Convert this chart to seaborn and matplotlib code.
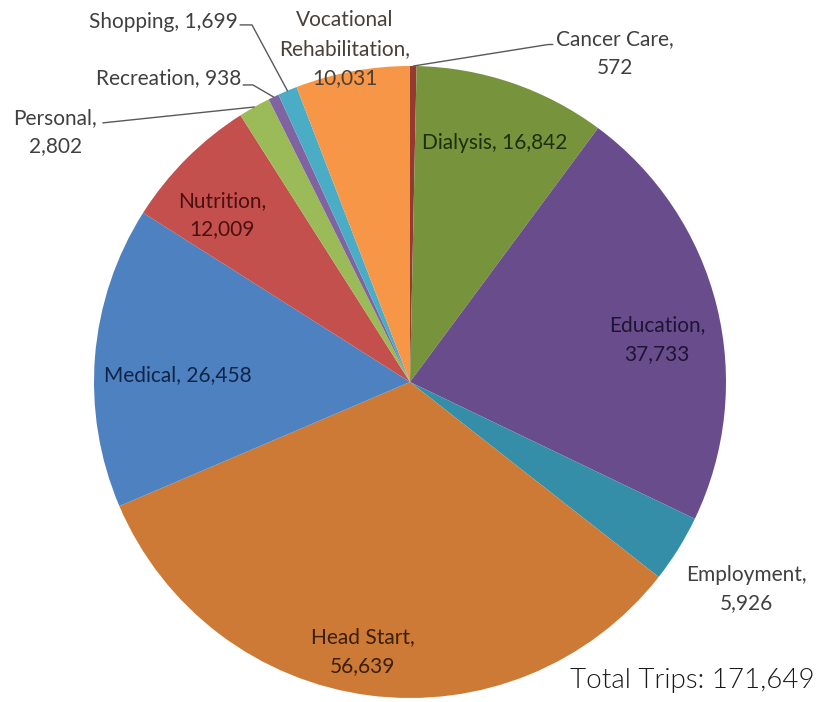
import numpy as np
import matplotlib
matplotlib.use("Agg")
import matplotlib.pyplot as plt
import seaborn as sns

# Trip purposes, clockwise from 12 o'clock
categories = [
    "Cancer Care", "Dialysis", "Education", "Employment", "Head Start",
    "Medical", "Nutrition", "Personal", "Recreation", "Shopping",
    "Vocational\nRehabilitation",
]
trips = [572, 16842, 37733, 5926, 56639, 26458, 12009, 2802, 938, 1699, 10031]
total_label = "Total Trips: 171,649"

slice_colors = [
    "#953A2E", "#77933C", "#694C8C", "#358EA8", "#CD7A36",
    "#4E81C0", "#C4504D", "#9BBB59", "#8064A2", "#4BACC6", "#F79646",
]
text_colors = [
    "#404040", "#1E2E0A", "#1E1530", "#404040", "#3A1E08",
    "#0F2548", "#4A0F0E", "#404040", "#404040", "#404040", "#4A4038",
]

sns.set_theme(style="white")
plt.rcParams["font.family"] = ["Lato", "DejaVu Sans"]

fig = plt.figure(figsize=(8.19, 7.02), dpi=100)
fig.patch.set_facecolor("white")
ax = fig.add_axes([94 / 819, 4 / 702, 632 / 819, 632 / 702])

palette = sns.color_palette(slice_colors)
wedges, _ = ax.pie(trips, radius=1.0, startangle=90, counterclock=False,
                   colors=palette, wedgeprops=dict(linewidth=0))
ax.set_xlim(-1, 1)
ax.set_ylim(-1, 1)
ax.set_aspect("equal")
ax.axis("off")

# label layout in pie units: (x, y, ha), optional leader (elbow, end)
layout = {
    "Cancer Care": ((0.649, 1.040, "center"), ((0.437, 1.068), (0.452, 1.068))),
    "Dialysis": ((0.269, 0.756, "center"), None),
    "Education": ((0.782, 0.133, "center"), None),
    "Employment": ((1.066, -0.655, "center"), None),
    "Head Start": ((-0.149, -0.854, "center"), None),
    "Medical": ((-0.734, 0.022, "center"), None),
    "Nutrition": ((-0.595, 0.528, "center"), None),
    "Personal": ((-1.123, 0.791, "center"), ((-0.972, 0.820), (-0.972, 0.820))),
    "Recreation": ((-0.535, 0.962, "right"), ((-0.497, 0.940), (-0.528, 0.940))),
    "Shopping": ((-0.544, 1.139, "right"), ((-0.500, 1.130), (-0.538, 1.130))),
    "Vocational\nRehabilitation": ((-0.206, 1.054, "center"), None),
}
one_line = {"Dialysis", "Medical", "Recreation", "Shopping"}

for w, cat, val, tc in zip(wedges, categories, trips, text_colors):
    (x, y, ha), leader = layout[cat]
    sep = " " if cat in one_line else "\n"
    label = f"{cat},{sep}{val:,}"
    ax.text(x, y, label, ha=ha, va="center", multialignment="center",
            fontsize=15, color=tc, linespacing=1.55, clip_on=False)
    if leader is not None:
        mid = np.deg2rad((w.theta1 + w.theta2) / 2)
        ax_pt = (np.cos(mid), np.sin(mid))
        (ex, ey), (fx, fy) = leader
        ax.plot([ax_pt[0], ex, fx], [ax_pt[1], ey, fy], color="#595959",
                lw=1.0, clip_on=False)

fig.text(0.995, 0.031, total_label, ha="right", va="center",
         fontsize=20, fontweight=300, color="#1a1a1a")

fig.savefig("out.png", dpi=100, facecolor="white")
